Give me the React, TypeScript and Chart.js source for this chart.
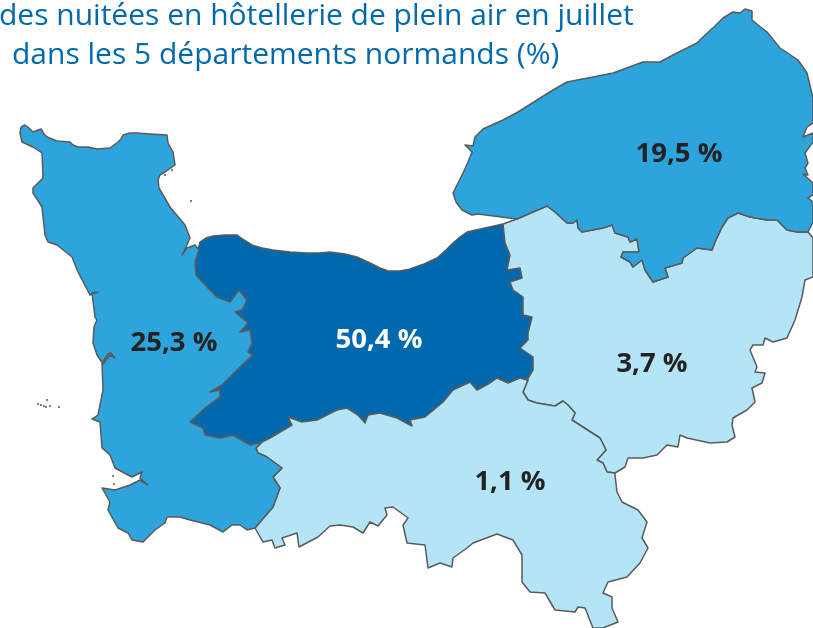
import React, { useEffect, useRef } from "react";
import { Chart, registerables } from "chart.js";

Chart.register(...registerables);

type P = [number, number];

const coastManche: P[] = [[21,127],[25,125],[29,128],[33,132],[38,130],[41,129],[44,134],[47,137],[57,141],[70,142],[73,145],[78,147],[88,147],[97,149],[110,148],[118,142],[121,139],[123,135],[130,133],[137,133],[150,134],[167,135],[168,143],[173,152],[175,165],[165,172],[160,175],[158,180],[159,188],[170,207],[185,225],[190,238],[186,247],[182,255],[187,248],[195,245],[199,250]];
const borderManCal: P[] = [[195,262],[196,275],[207,287],[217,297],[230,302],[239,290],[247,300],[242,310],[235,312],[248,323],[240,332],[250,330],[252,343],[248,352],[253,355],[242,365],[227,380],[222,385],[210,392],[220,390],[220,397],[205,408],[190,422],[203,428],[205,435],[220,438],[233,435],[250,445],[262,442]];
const borderManOrn: P[] = [[256,448],[258,453],[267,457],[282,468],[273,477],[280,488],[273,507],[255,528]];
const coastMancheWest: P[] = [[247,530],[240,525],[232,525],[223,532],[210,525],[190,520],[180,517],[167,517],[165,523],[155,530],[143,542],[132,540],[128,533],[118,528],[108,510],[110,502],[102,488],[115,490],[130,485],[140,480],[148,485],[140,478],[142,472],[132,477],[128,475],[115,468],[110,455],[102,448],[100,422],[92,419],[98,415],[103,390],[102,363],[108,354],[111,353],[115,358],[110,355],[103,364],[97,355],[93,343],[94,327],[97,320],[95,317],[92,293],[98,292],[90,295],[78,272],[72,257],[57,245],[48,242],[45,235],[42,207],[33,193],[33,188],[43,178],[42,153],[33,147],[22,142],[20,133]];
const coastCalvados: P[] = [[200,242],[206,238],[213,236],[225,235],[237,235],[244,240],[252,245],[262,248],[273,250],[290,252],[307,253],[320,253],[330,252],[345,254],[357,257],[370,263],[380,268],[388,271],[400,271],[410,269],[424,264],[437,258],[446,250],[453,243],[460,237],[467,232],[485,228],[503,224]];
const borderCalEure: P[] = [[505,243],[510,255],[507,270],[520,268],[522,278],[510,282],[513,290],[523,297],[523,315],[532,317],[528,333],[528,340],[520,348],[533,357],[533,370],[527,380]];
const borderCalOrn: P[] = [[520,378],[508,383],[497,378],[490,383],[477,390],[470,382],[453,390],[443,402],[425,417],[410,420],[412,426],[397,418],[380,413],[368,415],[365,423],[358,415],[347,408],[337,410],[317,420],[302,422],[288,417],[292,425],[270,438]];
const coastSeineTop: P[] = [[478,214],[472,215],[462,210],[456,202],[453,193],[458,183],[463,173],[468,162],[472,152],[465,145],[473,146],[475,137],[483,129],[503,120],[518,112],[553,90],[567,82],[593,77],[613,73],[643,62],[660,62],[673,55],[697,43],[703,37],[715,26],[723,18],[733,12],[740,13],[745,9],[752,11],[752,20],[758,25],[767,32],[780,48],[798,60],[807,73],[813,98],[813,123],[807,127],[803,137],[813,133],[813,142],[805,153],[808,163],[805,168],[808,175],[803,174],[813,183],[813,195],[808,198],[813,202],[813,222]];
const borderSeineEure: P[] = [[808,232],[797,232],[787,230],[777,220],[767,220],[750,217],[738,213],[728,218],[722,227],[715,242],[712,250],[697,248],[683,258],[682,263],[665,268],[668,277],[653,282],[645,270],[642,260],[633,267],[630,262],[621,257],[623,252],[639,252],[637,239],[630,242],[628,237],[615,233],[612,225],[603,228],[582,232],[578,228],[577,220],[573,223],[567,223],[555,212],[547,206],[533,212],[517,219]];
const coastEureEast: P[] = [[813,238],[813,277],[805,280],[802,297],[795,320],[787,338],[773,342],[765,338],[763,345],[753,345],[750,350],[757,367],[755,372],[765,373],[762,383],[752,388],[755,402],[747,410],[733,418],[732,425],[735,437],[727,442],[710,443],[687,438],[680,435],[678,447],[667,445],[657,455],[643,458],[628,458],[625,467],[615,473]];
const borderEureOrn: P[] = [[607,472],[603,463],[597,460],[606,450],[600,438],[572,420],[575,413],[568,405],[563,401],[555,406],[537,403],[528,400],[523,392],[528,380]];
const coastOrne: P[] = [[263,542],[272,540],[275,548],[285,545],[282,538],[297,533],[299,547],[318,537],[330,526],[340,525],[353,527],[363,533],[370,522],[378,526],[387,515],[385,508],[393,507],[408,518],[403,525],[407,543],[425,545],[428,568],[440,563],[452,567],[453,558],[467,548],[473,543],[497,534],[513,540],[522,555],[522,582],[530,592],[545,593],[555,610],[575,612],[578,607],[585,608],[593,628],[603,628],[618,622],[612,608],[612,597],[603,593],[608,582],[627,577],[640,563],[648,548],[642,538],[647,522],[638,510],[622,502],[617,492],[615,475]];
const islets: P[] = [[38,404],[41,405],[44,406],[46,407],[47,400],[50,406],[59,407],[172,170],[165,175],[191,201],[113,476],[114,484]];

const rev = (a: P[]): P[] => [...a].reverse();

const shapeManche: P[] = [...coastManche, ...borderManCal, ...borderManOrn, ...coastMancheWest, coastManche[0]];
const shapeCalvados: P[] = [...coastCalvados, ...borderCalEure, ...borderCalOrn, [262,442], ...rev(borderManCal), coastCalvados[0]];
const shapeSeine: P[] = [...coastSeineTop, ...borderSeineEure, coastSeineTop[0]];
const shapeEure: P[] = [[503,224], ...rev(borderSeineEure), ...coastEureEast, ...borderEureOrn, ...rev(borderCalEure), [503,224]];
const shapeOrne: P[] = [[262,442], ...rev(borderCalOrn), [527,380], ...rev(borderEureOrn), [615,473], ...rev(coastOrne), ...rev(borderManOrn), [262,442]];

const depShapes = [shapeManche, shapeSeine, shapeOrne, shapeEure, shapeCalvados];
const depColors = ["#2EA4DC", "#2EA4DC", "#B3E5F6", "#B3E5F6", "#0069AE"];
const depNames = ["Manche", "Seine-Maritime", "Orne", "Eure", "Calvados"];

const labelTexts = ["25,3 %", "19,5 %", "1,1 %", "3,7 %", "50,4 %"];
const labelAnchors: P[] = [[174,343],[679,154],[510,482],[652,364],[379,340]];
const labelColors = ["#222222", "#222222", "#222222", "#222222", "#FFFFFF"];
const titleLines = ["des nuitées en hôtellerie de plein air en juillet", "dans les 5 départements normands (%)"];
const titleAnchors: P[] = [[-1,25],[12,64]];

const pts = (a: P[]) => a.map(([x, y]) => ({ x, y }));

const textPlugin = {
  id: "mapText",
  afterDatasetsDraw(chart: any) {
    const { ctx, scales } = chart;
    ctx.save();
    ctx.textBaseline = "middle";
    ctx.textAlign = "center";
    ctx.font = 'bold 27.5px "Open Sans"';
    labelTexts.forEach((t, i) => {
      ctx.fillStyle = labelColors[i];
      ctx.fillText(t, scales.x.getPixelForValue(labelAnchors[i][0]), scales.y.getPixelForValue(labelAnchors[i][1]));
    });
    ctx.textBaseline = "alphabetic";
    ctx.textAlign = "left";
    ctx.font = '30px "Open Sans"';
    ctx.fillStyle = "#0069AE";
    titleLines.forEach((t, i) => {
      ctx.fillText(t, scales.x.getPixelForValue(titleAnchors[i][0]), scales.y.getPixelForValue(titleAnchors[i][1]));
    });
    ctx.restore();
  },
};

export default function App() {
  const ref = useRef<HTMLCanvasElement>(null);
  useEffect(() => {
    const chart = new Chart(ref.current!, {
      type: "scatter",
      data: {
        datasets: [
          ...depShapes.map((s, i) => ({
            label: depNames[i],
            data: pts(s),
            showLine: true,
            fill: "shape",
            backgroundColor: depColors[i],
            borderColor: "#5A5A5A",
            borderWidth: 1.5,
            borderJoinStyle: "round",
            tension: 0,
            pointRadius: 0,
            pointHoverRadius: 0,
          })),
          {
            label: "Îlots",
            data: pts(islets),
            showLine: false,
            backgroundColor: "#565656",
            borderWidth: 0,
            pointRadius: 1,
          },
        ],
      } as any,
      options: {
        animation: false,
        responsive: false,
        layout: { padding: 0, autoPadding: false },
        plugins: { legend: { display: false }, tooltip: { enabled: false }, title: { display: false } },
        scales: {
          x: { type: "linear", min: 0, max: 813, display: false },
          y: { type: "linear", min: 0, max: 628, reverse: true, display: false },
        },
      },
      plugins: [textPlugin],
    });
    return () => chart.destroy();
  }, []);
  return (
    <canvas
      ref={ref}
      width={813}
      height={628}
      style={{ position: "fixed", left: 0, top: 0, width: 813, height: 628, display: "block" }}
    />
  );
}
